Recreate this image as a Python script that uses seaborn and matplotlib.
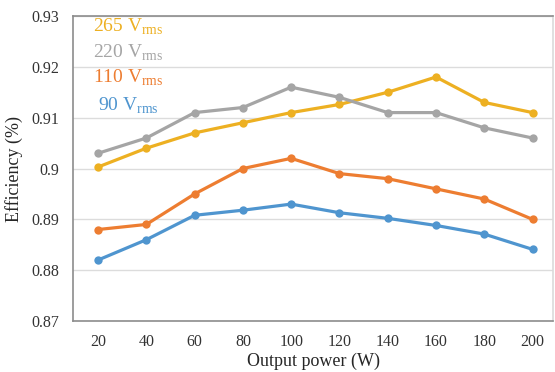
import matplotlib
matplotlib.use("Agg")
import matplotlib.pyplot as plt
import matplotlib.transforms as mtransforms
import seaborn as sns
import pandas as pd

power = [20, 40, 60, 80, 100, 120, 140, 160, 180, 200]
eff_265 = [0.9003, 0.904, 0.907, 0.909, 0.911, 0.9126, 0.915, 0.918, 0.913, 0.911]
eff_220 = [0.903, 0.906, 0.911, 0.912, 0.916, 0.914, 0.911, 0.911, 0.908, 0.906]
eff_110 = [0.888, 0.889, 0.895, 0.900, 0.902, 0.899, 0.898, 0.896, 0.894, 0.890]
eff_90 = [0.882, 0.886, 0.8908, 0.8918, 0.893, 0.8913, 0.8902, 0.8888, 0.8871, 0.8841]
series_labels = ["265", "220", "110", "90"]
yticks = [0.87, 0.88, 0.89, 0.90, 0.91, 0.92, 0.93]
ytick_labels = ["0.87", "0.88", "0.89", "0.9", "0.91", "0.92", "0.93"]

colors = {"265": "#EDB022", "220": "#A5A5A5", "110": "#ED7D31", "90": "#4F95CF"}

rows = []
for lab, vals in zip(series_labels, [eff_265, eff_220, eff_110, eff_90]):
    for p, v in zip(power, vals):
        rows.append({"power": p, "eff": v, "series": lab})
df = pd.DataFrame(rows)

sns.set_style("white")
plt.rcParams['font.family'] = ['Liberation Serif', 'DejaVu Serif']
plt.rcParams['mathtext.fontset'] = 'custom'
plt.rcParams['mathtext.rm'] = 'Liberation Serif'

fig = plt.figure(figsize=(5.55, 3.72), dpi=100)
ax = fig.add_axes([0.1315, 0.137, 0.865, 0.82])

sns.lineplot(data=df, x="power", y="eff", hue="series", palette=colors,
             hue_order=series_labels, marker="o", markersize=6, markeredgewidth=0,
             linewidth=2.3, ax=ax, legend=False)

ax.set_xlim(9.6, 208.5)
ax.set_ylim(0.87, 0.93)
ax.set_xticks(power)
ax.set_xticklabels([str(p) for p in power], fontsize=11.5, color="#333333")
ax.set_yticks(yticks)
ax.set_yticklabels(ytick_labels, fontsize=11.5, color="#333333")
ax.yaxis.grid(True, color="#DCDCDC", linewidth=1)
ax.set_axisbelow(True)
for s in ["left", "bottom", "top", "right"]:
    ax.spines[s].set_color("#8C8C8C")
    ax.spines[s].set_linewidth(1.2)
ax.spines["right"].set_color("#DADADA")
ax.tick_params(axis="x", direction="in", length=4, color="#8C8C8C", pad=9)
ax.tick_params(axis="y", length=0, pad=10)
ax.set_xlabel("Output power (W)", fontsize=13, labelpad=2)
ax.set_ylabel("Efficiency (%)", fontsize=13, labelpad=6)

trans = mtransforms.blended_transform_factory(fig.transFigure, ax.transData)
ytxt = [0.9278, 0.9228, 0.9179, 0.9124]
xtxt = [93, 93, 93, 98]
for lab, yy, xx in zip(series_labels, ytxt, xtxt):
    ax.text(xx / 555, yy, lab + r" V$_{\mathrm{rms}}$", transform=trans,
            va="center", ha="left", fontsize=14, color=colors[lab])

fig.savefig("out.png", dpi=100)
